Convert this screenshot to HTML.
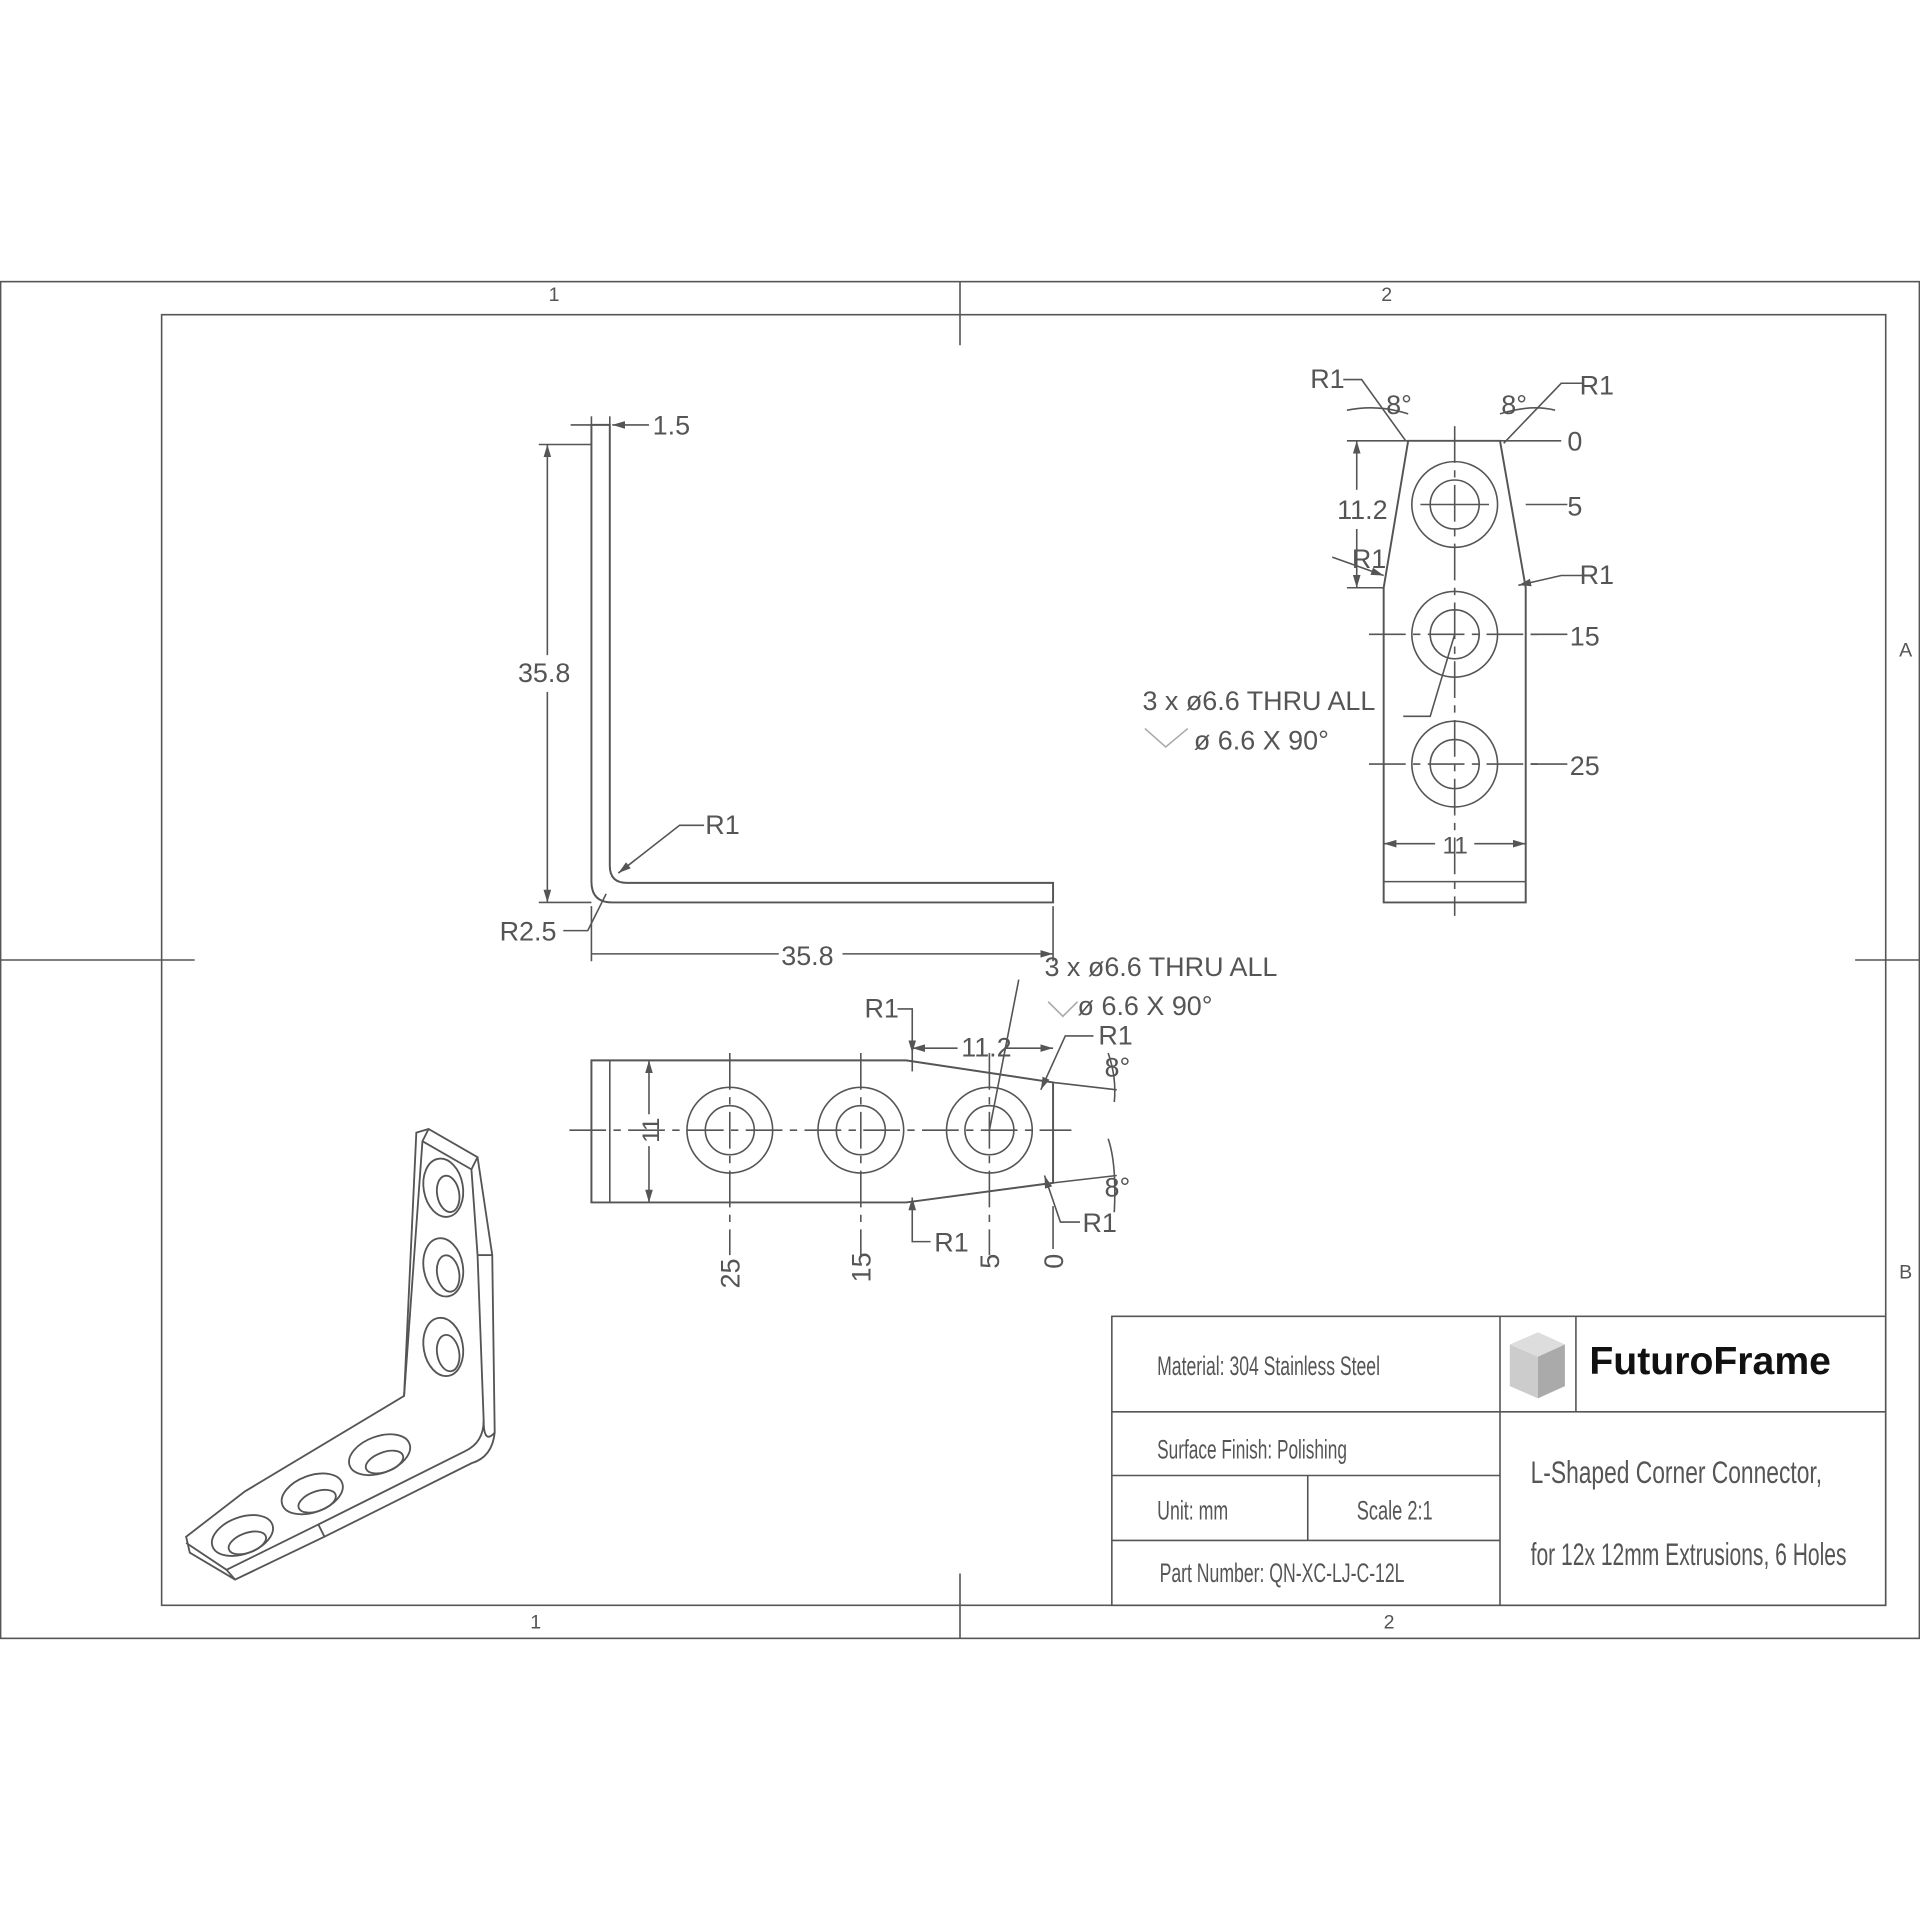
<!DOCTYPE html>
<html><head><meta charset="utf-8"><style>
html,body{margin:0;padding:0;background:#fff}
svg{display:block}
text{font-family:"Liberation Sans",sans-serif;fill:#555}
</style></head><body>
<svg width="1920" height="1920" viewBox="0 0 1568 1568" xmlns="http://www.w3.org/2000/svg">
<defs>
<marker id="a" viewBox="0 0 10 10" refX="10" refY="5" markerWidth="8" markerHeight="8" orient="auto-start-reverse"><path d="M0,2 L10,5 L0,8 z" fill="#555"/></marker>
</defs>
<g stroke="#555" fill="none" stroke-width="1.3">
<rect x="0.5" y="230" width="1567" height="1108"/>
<rect x="132" y="257" width="1408" height="1054"/>
<line x1="784" y1="230" x2="784" y2="282"/><line x1="784" y1="1285" x2="784" y2="1338"/>
<line x1="132" y1="784" x2="159" y2="784"/><line x1="1515" y1="784" x2="1540" y2="784"/>
<line x1="0" y1="784" x2="132" y2="784"/><line x1="1540" y1="784" x2="1568" y2="784"/>

<path d="M483,347 L483,720 Q483,737 500,737 L860,737 L860,721 L512,721 Q498,721 498,707 L498,347 Z" stroke-width="1.6"/>
<line x1="483" y1="347" x2="483" y2="340"/><line x1="498" y1="347" x2="498" y2="340"/>
<line x1="466" y1="347" x2="483" y2="347"/>
<line x1="530" y1="347" x2="500" y2="347" marker-end="url(#a)"/>
<line x1="440" y1="363" x2="483" y2="363"/><line x1="440" y1="737" x2="483" y2="737"/>
<line x1="447" y1="363" x2="447" y2="535" marker-start="url(#a)"/><line x1="447" y1="565" x2="447" y2="737" marker-end="url(#a)"/>
<polyline points="575,674 555,674 505,713" marker-end="url(#a)"/>
<polyline points="460,760 480,760 495,730" />
<line x1="483" y1="740" x2="483" y2="785"/><line x1="860" y1="740" x2="860" y2="785"/>
<line x1="483" y1="779" x2="636" y2="779"/><line x1="688" y1="779" x2="860" y2="779" marker-end="url(#a)"/>

<path d="M483,866 L740,866 L860,884 L860,966 L740,982 L483,982 Z" stroke-width="1.6"/>
<line x1="498" y1="866" x2="498" y2="982"/>
<line x1="530" y1="866" x2="530" y2="910" marker-start="url(#a)"/><line x1="530" y1="936" x2="530" y2="982" marker-end="url(#a)"/>
<line x1="465" y1="923" x2="875" y2="923" stroke-dasharray="30,6,6,6"/>
<g>
<circle cx="596" cy="923" r="35"/><circle cx="596" cy="923" r="20"/>
<circle cx="703" cy="923" r="35"/><circle cx="703" cy="923" r="20"/>
<circle cx="808" cy="923" r="35"/><circle cx="808" cy="923" r="20"/>
</g>
<g stroke-dasharray="30,6,6,6">
<line x1="596" y1="860" x2="596" y2="1025"/><line x1="703" y1="860" x2="703" y2="1025"/><line x1="808" y1="860" x2="808" y2="1025"/>
</g>
<line x1="860" y1="985" x2="860" y2="1020"/>
<line x1="808" y1="923" x2="832" y2="800"/>
<line x1="745" y1="850" x2="745" y2="875"/>
<line x1="745" y1="856" x2="782" y2="856" marker-start="url(#a)"/><line x1="820" y1="856" x2="860" y2="856" marker-end="url(#a)"/>
<polyline points="733,824 745,824 745,860" marker-end="url(#a)"/>
<polyline points="893,846 870,846 850,890" marker-end="url(#a)"/>
<line x1="860" y1="884" x2="912" y2="890"/>
<path d="M905,860 Q912,880 910,900"/>
<line x1="860" y1="966" x2="912" y2="960"/>
<path d="M905,930 Q912,950 910,990"/>
<polyline points="760,1014 745,1014 745,978" marker-end="url(#a)"/>
<polyline points="882,998 866,998 853,960" marker-end="url(#a)"/>
<path d="M856,818 L868,830 L880,818" stroke="#aaa"/>

<path d="M1150,360 L1225,360 L1246,480 L1246,737 L1130,737 L1130,480 Z" stroke-width="1.6"/>
<line x1="1130" y1="720" x2="1246" y2="720"/>
<line x1="1188" y1="348" x2="1188" y2="748" stroke-dasharray="30,6,6,6"/>
<circle cx="1188" cy="412" r="35"/><circle cx="1188" cy="412" r="20"/>
<circle cx="1188" cy="518" r="35"/><circle cx="1188" cy="518" r="20"/>
<circle cx="1188" cy="624" r="35"/><circle cx="1188" cy="624" r="20"/>
<line x1="1118" y1="518" x2="1260" y2="518" stroke-dasharray="30,6,6,6"/>
<line x1="1118" y1="624" x2="1260" y2="624" stroke-dasharray="30,6,6,6"/>
<line x1="1160" y1="412" x2="1216" y2="412"/>
<line x1="1225" y1="360" x2="1275" y2="360"/>
<line x1="1246" y1="412" x2="1280" y2="412"/>
<line x1="1250" y1="518" x2="1280" y2="518"/>
<line x1="1250" y1="624" x2="1280" y2="624"/>
<polyline points="1292,470 1275,470 1240,478" marker-end="url(#a)"/>
<line x1="1100" y1="360" x2="1150" y2="360"/><line x1="1100" y1="480" x2="1130" y2="480"/>
<line x1="1108" y1="360" x2="1108" y2="400" marker-start="url(#a)"/><line x1="1108" y1="432" x2="1108" y2="480" marker-end="url(#a)"/>
<polyline points="1097,310 1112,310 1148,360"/>
<polyline points="1292,313 1275,313 1228,362"/>
<path d="M1100,335 Q1125,330 1150,338"/>
<path d="M1270,335 Q1250,330 1225,338"/>
<polyline points="1088,455 1130,470" marker-end="url(#a)"/>
<line x1="1130" y1="689" x2="1172" y2="689" marker-start="url(#a)"/><line x1="1204" y1="689" x2="1246" y2="689" marker-end="url(#a)"/>
<polyline points="1146,585 1168,585 1188,518"/>
<path d="M935,595 L952,610 L970,595" stroke="#aaa"/>

<g stroke-width="1.5">
<path d="M340,925 L350,922 L390,945 L402,1025 L404,1170 Q402,1190 385,1195 L265,1255 L192,1290 L155,1268 L152,1255 L200,1218 L330,1140 Z"/>
<path d="M350,922 L345,932 L330,1140"/>
<path d="M345,932 L385,955 L390,1025 L395,1160 Q395,1178 380,1185 L260,1245 L185,1282 L152,1260"/>
<path d="M385,955 L390,945"/>
<path d="M390,1025 L402,1025"/>
<path d="M395,1160 Q395,1180 404,1170"/>
<path d="M185,1282 L192,1290"/>
<path d="M260,1245 L265,1255"/>
<ellipse cx="362" cy="970" rx="16" ry="24" transform="rotate(-10 362 970)"/>
<ellipse cx="366" cy="975" rx="9" ry="15" transform="rotate(-10 366 975)"/>
<ellipse cx="362" cy="1035" rx="16" ry="24" transform="rotate(-10 362 1035)"/>
<ellipse cx="366" cy="1040" rx="9" ry="15" transform="rotate(-10 366 1040)"/>
<ellipse cx="362" cy="1100" rx="16" ry="24" transform="rotate(-10 362 1100)"/>
<ellipse cx="366" cy="1105" rx="9" ry="15" transform="rotate(-10 366 1105)"/>
<ellipse cx="310" cy="1188" rx="26" ry="15" transform="rotate(-20 310 1188)"/>
<ellipse cx="314" cy="1194" rx="16" ry="8" transform="rotate(-20 314 1194)"/>
<ellipse cx="255" cy="1220" rx="26" ry="15" transform="rotate(-20 255 1220)"/>
<ellipse cx="259" cy="1226" rx="16" ry="8" transform="rotate(-20 259 1226)"/>
<ellipse cx="198" cy="1254" rx="26" ry="15" transform="rotate(-20 198 1254)"/>
<ellipse cx="202" cy="1260" rx="16" ry="8" transform="rotate(-20 202 1260)"/>
</g>

<rect x="908" y="1075" width="632" height="236"/>
<line x1="1225" y1="1075" x2="1225" y2="1311"/>
<line x1="908" y1="1153" x2="1540" y2="1153"/>
<line x1="908" y1="1205" x2="1225" y2="1205"/>
<line x1="908" y1="1258" x2="1225" y2="1258"/>
<line x1="1068" y1="1205" x2="1068" y2="1258"/>
<line x1="1287" y1="1075" x2="1287" y2="1153"/>
</g>
<g>
<polygon points="1233,1098 1256,1088 1278,1098 1256,1108" fill="#ddd"/>
<polygon points="1233,1098 1256,1108 1256,1142 1233,1132" fill="#ccc"/>
<polygon points="1256,1108 1278,1098 1278,1132 1256,1142" fill="#aaa"/>
</g>
<text x="1298" y="1122" font-size="32" font-weight="bold" style="fill:#111">FuturoFrame</text>

<g font-size="22">
<text x="533" y="355">1.5</text>
<text x="423" y="557">35.8</text>
<text x="576" y="681">R1</text>
<text x="408" y="768">R2.5</text>
<text x="638" y="788">35.8</text>
<text x="853" y="797">3 x ø6.6 THRU ALL</text>
<text x="880" y="829">ø 6.6 X 90°</text>
<text x="706" y="831">R1</text>
<text x="785" y="863">11.2</text>
<text x="897" y="853">R1</text>
<text x="902" y="879">8°</text>
<text x="902" y="977">8°</text>
<text x="763" y="1022">R1</text>
<text x="884" y="1006">R1</text>
<g text-anchor="middle">
<text transform="translate(538,923) rotate(-90)" font-size="20">11</text>
<text transform="translate(604,1040) rotate(-90)">25</text>
<text transform="translate(711,1035) rotate(-90)">15</text>
<text transform="translate(816,1030) rotate(-90)">5</text>
<text transform="translate(868,1030) rotate(-90)">0</text>
</g>
<text x="1070" y="317">R1</text>
<text x="1290" y="322">R1</text>
<text x="1132" y="338">8°</text>
<text x="1226" y="338">8°</text>
<text x="1280" y="368">0</text>
<text x="1280" y="421">5</text>
<text x="1290" y="477">R1</text>
<text x="1282" y="527">15</text>
<text x="1282" y="633">25</text>
<text x="1092" y="424">11.2</text>
<text x="1104" y="464">R1</text>
<text x="1178" y="697" font-size="20">11</text>
<text x="933" y="580">3 x ø6.6 THRU ALL</text>
<text x="975" y="612">ø 6.6 X 90°</text>
</g>
<g font-size="16" fill="#777">
<text x="448" y="246">1</text><text x="1128" y="246">2</text>
<text x="433" y="1330">1</text><text x="1130" y="1330">2</text>
<text x="1551" y="536">A</text><text x="1551" y="1044">B</text>
</g>
<g font-size="22" fill="#555">
<text x="945" y="1123" textLength="182" lengthAdjust="spacingAndGlyphs">Material: 304 Stainless Steel</text>
<text x="945" y="1191" textLength="155" lengthAdjust="spacingAndGlyphs">Surface Finish:  Polishing</text>
<text x="945" y="1241" textLength="58" lengthAdjust="spacingAndGlyphs">Unit: mm</text>
<text x="1108" y="1241" textLength="62" lengthAdjust="spacingAndGlyphs">Scale   2:1</text>
<text x="947" y="1292" textLength="200" lengthAdjust="spacingAndGlyphs">Part Number: QN-XC-LJ-C-12L</text>
<text x="1250" y="1211" font-size="26" textLength="238" lengthAdjust="spacingAndGlyphs">L-Shaped Corner Connector,</text>
<text x="1250" y="1278" font-size="26" textLength="258" lengthAdjust="spacingAndGlyphs">for 12x 12mm Extrusions, 6 Holes</text>
</g>
</svg>
</body></html>
